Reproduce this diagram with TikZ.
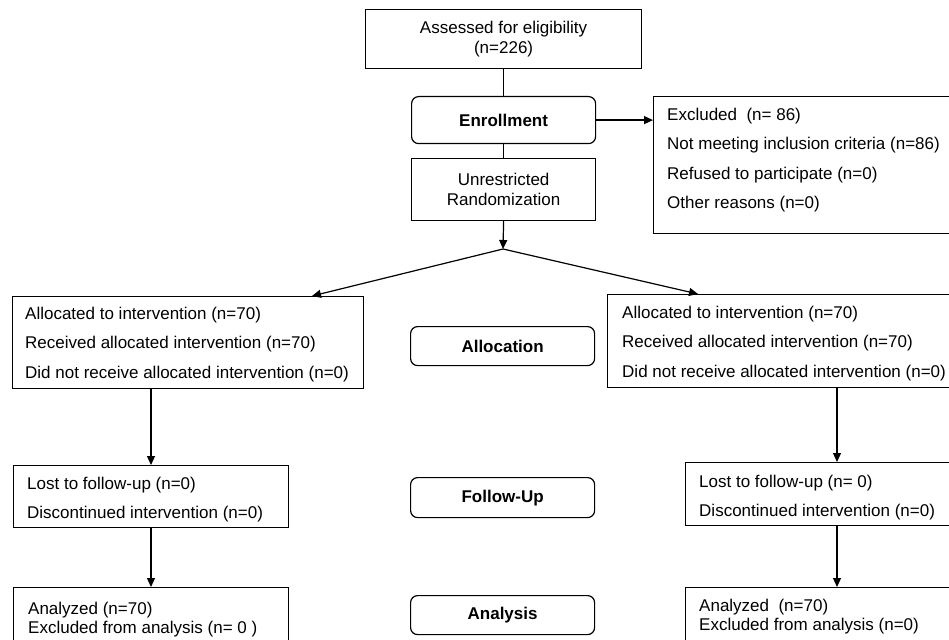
\documentclass[tikz,border=0pt]{standalone}
\usepackage{fontspec}
\setmainfont{Liberation Sans}
\usetikzlibrary{arrows.meta,calc}
\begin{document}
\begin{tikzpicture}[x=1pt,y=-1pt,
  frame/.style={draw, line width=1.2pt, inner sep=0pt, anchor=north west},
  rframe/.style={frame, rounded corners=7pt},
  body/.style={inner sep=0pt, anchor=north west, align=left, font=\fontsize{17}{29.5}\selectfont},
  tight/.style={body, font=\fontsize{17}{19}\selectfont},
  lab/.style={font=\fontsize{17}{20}\selectfont\bfseries},
  conn/.style={line width=1.2pt},
  arr/.style={conn, -{Triangle[length=9pt,width=8pt]}}]
\useasboundingbox (0,0) rectangle (949,639);
\clip (0,0) rectangle (949,639);
\fill[white] (0,0) rectangle (949,639);

% top column
\node[frame, minimum width=276pt, minimum height=59pt, align=center,
      font=\fontsize{17}{20}\selectfont] (assess) at (365,9)
      {Assessed for eligibility\\(n=226)};
\node[rframe, minimum width=184pt, minimum height=47pt, lab] (enroll) at (411,96) {Enrollment};
\node[frame, minimum width=184pt, minimum height=62pt, align=center,
      font=\fontsize{17}{20}\selectfont] (rand) at (411,158)
      {Unrestricted\\Randomization};
\node[frame, minimum width=320pt, minimum height=137pt] (excl) at (653,96) {};
\node[body] (exclT) at (667,107.6)
  {Excluded~~(n=~86)\\Not meeting inclusion criteria (n=86)\\Refused to participate (n=0)\\Other reasons (n=0)};
\coordinate (apex) at (503,249);

% stage labels
\node[rframe, minimum width=184pt, minimum height=39pt, lab] (stAlloc) at (410,326) {Allocation};
\node[rframe, minimum width=184pt, minimum height=40pt, lab] (stFollow) at (410,477) {Follow-Up};
\node[rframe, minimum width=184pt, minimum height=39pt, lab] (stAnal) at (410,595) {Analysis};

% left arm
\node[frame, minimum width=351pt, minimum height=92pt] (alL) at (12,296) {};
\node[body] (alLT) at (25,306.6)
  {Allocated to intervention (n=70)\\Received allocated intervention (n=70)\\Did not receive allocated intervention (n=0)};
\node[frame, minimum width=275pt, minimum height=62pt] (fuL) at (13,465) {};
\node[body] (fuLT) at (27,476.6) {Lost to follow-up (n=0)\\Discontinued intervention (n=0)};
\node[frame, minimum width=275pt, minimum height=70pt] (anL) at (13,587) {};
\node[tight] (anLT) at (28,601.6) {Analyzed (n=70)\\Excluded from analysis (n=~0~)};

% right arm
\node[frame, minimum width=360pt, minimum height=93pt] (alR) at (607,294) {};
\node[body] (alRT) at (622,305.6)
  {Allocated to intervention (n=70)\\Received allocated intervention (n=70)\\Did not receive allocated intervention (n=0)};
\node[frame, minimum width=290pt, minimum height=63pt] (fuR) at (685,462) {};
\node[body] (fuRT) at (699,474.6) {Lost to follow-up (n=~0)\\Discontinued intervention (n=0)};
\node[frame, minimum width=290pt, minimum height=70pt] (anR) at (685,587) {};
\node[tight] (anRT) at (699,598.6) {Analyzed~~(n=70)\\Excluded from analysis (n=0)};

\coordinate (xL) at (151,0);
\coordinate (xR) at (837,0);

% connectors
\draw[conn] (assess.south) -- (enroll.north);
\draw[conn] (enroll.south) -- (rand.north);
\draw[arr] (enroll.east) -- (enroll.east -| excl.west);
\draw[arr] (rand.south) -- (apex);
\draw[arr] (apex) -- ($(alL.north west)+(300,0)$);
\draw[arr] (apex) -- ($(alR.north west)+(91,0)$);
\draw[arr] (alL.south -| xL) -- (fuL.north -| xL);
\draw[arr] (fuL.south -| xL) -- (anL.north -| xL);
\draw[arr] (alR.south -| xR) -- (fuR.north -| xR);
\draw[arr] (fuR.south -| xR) -- (anR.north -| xR);
\end{tikzpicture}
\end{document}
